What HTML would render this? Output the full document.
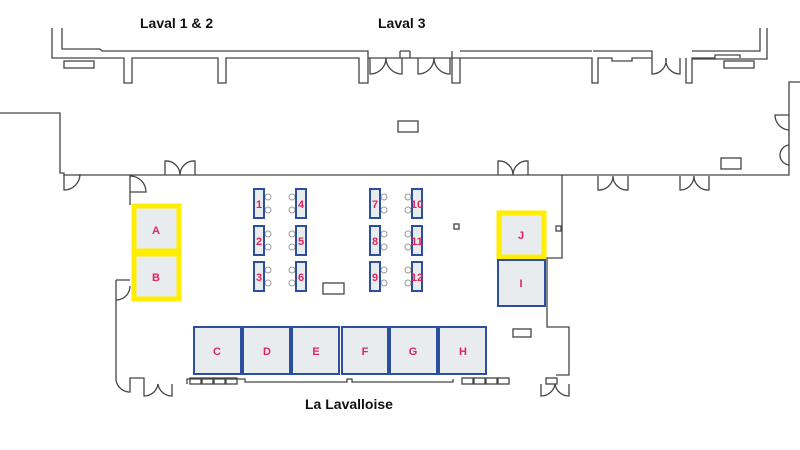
<!DOCTYPE html>
<html><head><meta charset="utf-8"><style>
html,body{margin:0;padding:0;background:#fff;width:800px;height:450px;overflow:hidden}
svg{display:block}
.w{fill:none;stroke:#444;stroke-width:1.3}
.t{font-family:"Liberation Sans",sans-serif;font-weight:bold;fill:#111;font-size:14px}
.b{fill:#e9ecef;stroke:#2b4f9c;stroke-width:2}
.y{fill:#e9ecef;stroke:#ffee00;stroke-width:5}
.l{font-family:"Liberation Sans",sans-serif;font-weight:bold;fill:#e0245e;font-size:11px;text-anchor:middle}
.c{fill:#fff;stroke:#999;stroke-width:1}
</style></head><body>
<svg width="800" height="450" viewBox="0 0 800 450">
<text class="t" x="140" y="28">Laval 1 &amp; 2</text>
<text class="t" x="378" y="28">Laval 3</text>
<text class="t" x="305" y="409">La Lavalloise</text>
<!-- top building -->
<path class="w" d="M52 28V58H124V83H132V58H218V83H226V58H359V83H368V58M460 58V83H452V51M62 28V49H100L102 51H368V58M400 51V58M410 51V58M400 51H410M368 58H460"/>
<path class="w" d="M460 51H592M460 58H592V83H598V58H612V61H632V58H652M652 58V51H593M686 58V83H692V58H715V55H740V58M692 51H760V28M767 28V59H692"/>
<rect class="w" x="64" y="61" width="30" height="7"/>
<rect class="w" x="724" y="61" width="30" height="7"/>
<path class="w" d="M370 58V74A16 16 0 0 0 386 58M402 58V74A16 16 0 0 1 386 58M418 58V74A16 16 0 0 0 434 58M450 58V74A16 16 0 0 1 434 58M652 58V74A14 14 0 0 0 666 58M680 58V74A14 14 0 0 1 666 58"/>
<!-- corridor -->
<path class="w" d="M0 113H60V173H64V175H789V82H800"/>
<rect class="w" x="398" y="121" width="20" height="11"/>
<rect class="w" x="721" y="158" width="20" height="11"/>
<path class="w" d="M165 175V161A14 14 0 0 1 180 175A14 14 0 0 1 195 161V175M498 175V161A14 14 0 0 1 513 175A14 14 0 0 1 528 161V175"/>
<path class="w" d="M598 176V190A14 14 0 0 0 613 176A14 14 0 0 0 628 190V176M680 176V190A14 14 0 0 0 694 176A14 14 0 0 0 709 190V176"/>
<path class="w" d="M789 130A15 15 0 0 1 775 115H789M789 145A10 10 0 0 0 780 155A10 10 0 0 0 789 165"/>
<!-- lower room -->
<path class="w" d="M64 175V190A16 16 0 0 0 80 174M130 175V205M130 176A16 16 0 0 1 146 192H130"/>
<path class="w" d="M562 175V258H547V327H569V375H556"/>
<path class="w" d="M116 280H130M116 280V300A14 14 0 0 0 130 286M116 300V380A14 14 0 0 0 130 392V378H144V384M144 384V396A14 14 0 0 0 158 384A14 14 0 0 0 172 396V384M187 384V379H245V382H347V379H352V382H453V379"/>
<path class="w" d="M541 384V396A14 14 0 0 0 555 384A14 14 0 0 0 569 396V384"/>
<g class="w"><rect x="190" y="378" width="11" height="6"/><rect x="202" y="378" width="11" height="6"/><rect x="214" y="378" width="11" height="6"/><rect x="226" y="378" width="11" height="6"/><rect x="462" y="378" width="11" height="6"/><rect x="474" y="378" width="11" height="6"/><rect x="486" y="378" width="11" height="6"/><rect x="498" y="378" width="11" height="6"/><rect x="546" y="378" width="11" height="6"/></g>
<rect class="w" x="323" y="283" width="21" height="11"/>
<rect class="w" x="513" y="329" width="18" height="8"/>
<rect class="w" x="454" y="224" width="5" height="5"/>
<rect class="w" x="556" y="226" width="5" height="5"/>
<!-- booths -->
<rect class="y" x="134" y="206" width="45" height="45"/><text class="l" x="156" y="234">A</text>
<rect class="y" x="134" y="254" width="45" height="45"/><text class="l" x="156" y="281">B</text>
<rect class="y" x="499" y="213" width="45" height="44"/><text class="l" x="521" y="239">J</text>
<rect class="b" x="498" y="260" width="47" height="46"/><text class="l" x="521" y="287">I</text>
<g>
<rect class="b" x="194" y="327" width="47" height="47"/><text class="l" x="217" y="355">C</text>
<rect class="b" x="243" y="327" width="47" height="47"/><text class="l" x="267" y="355">D</text>
<rect class="b" x="292" y="327" width="47" height="47"/><text class="l" x="316" y="355">E</text>
<rect class="b" x="342" y="327" width="46" height="47"/><text class="l" x="365" y="355">F</text>
<rect class="b" x="390" y="327" width="47" height="47"/><text class="l" x="413" y="355">G</text>
<rect class="b" x="439" y="327" width="47" height="47"/><text class="l" x="463" y="355">H</text>
</g>
<!-- tables -->
<g>
<circle class="c" cx="268" cy="197" r="3"/><circle class="c" cx="268" cy="210" r="3"/><rect class="b" x="254" y="189" width="10" height="29"/><text class="l" x="259" y="208">1</text>
<circle class="c" cx="268" cy="234" r="3"/><circle class="c" cx="268" cy="247" r="3"/><rect class="b" x="254" y="226" width="10" height="29"/><text class="l" x="259" y="245">2</text>
<circle class="c" cx="268" cy="270" r="3"/><circle class="c" cx="268" cy="283" r="3"/><rect class="b" x="254" y="262" width="10" height="29"/><text class="l" x="259" y="281">3</text>
<circle class="c" cx="292" cy="197" r="3"/><circle class="c" cx="292" cy="210" r="3"/><rect class="b" x="296" y="189" width="10" height="29"/><text class="l" x="301" y="208">4</text>
<circle class="c" cx="292" cy="234" r="3"/><circle class="c" cx="292" cy="247" r="3"/><rect class="b" x="296" y="226" width="10" height="29"/><text class="l" x="301" y="245">5</text>
<circle class="c" cx="292" cy="270" r="3"/><circle class="c" cx="292" cy="283" r="3"/><rect class="b" x="296" y="262" width="10" height="29"/><text class="l" x="301" y="281">6</text>
<circle class="c" cx="384" cy="197" r="3"/><circle class="c" cx="384" cy="210" r="3"/><rect class="b" x="370" y="189" width="10" height="29"/><text class="l" x="375" y="208">7</text>
<circle class="c" cx="384" cy="234" r="3"/><circle class="c" cx="384" cy="247" r="3"/><rect class="b" x="370" y="226" width="10" height="29"/><text class="l" x="375" y="245">8</text>
<circle class="c" cx="384" cy="270" r="3"/><circle class="c" cx="384" cy="283" r="3"/><rect class="b" x="370" y="262" width="10" height="29"/><text class="l" x="375" y="281">9</text>
<circle class="c" cx="408" cy="197" r="3"/><circle class="c" cx="408" cy="210" r="3"/><rect class="b" x="412" y="189" width="10" height="29"/><text class="l" x="417" y="208">10</text>
<circle class="c" cx="408" cy="234" r="3"/><circle class="c" cx="408" cy="247" r="3"/><rect class="b" x="412" y="226" width="10" height="29"/><text class="l" x="417" y="245">11</text>
<circle class="c" cx="408" cy="270" r="3"/><circle class="c" cx="408" cy="283" r="3"/><rect class="b" x="412" y="262" width="10" height="29"/><text class="l" x="417" y="281">12</text>
</g>
</svg>
</body></html>
